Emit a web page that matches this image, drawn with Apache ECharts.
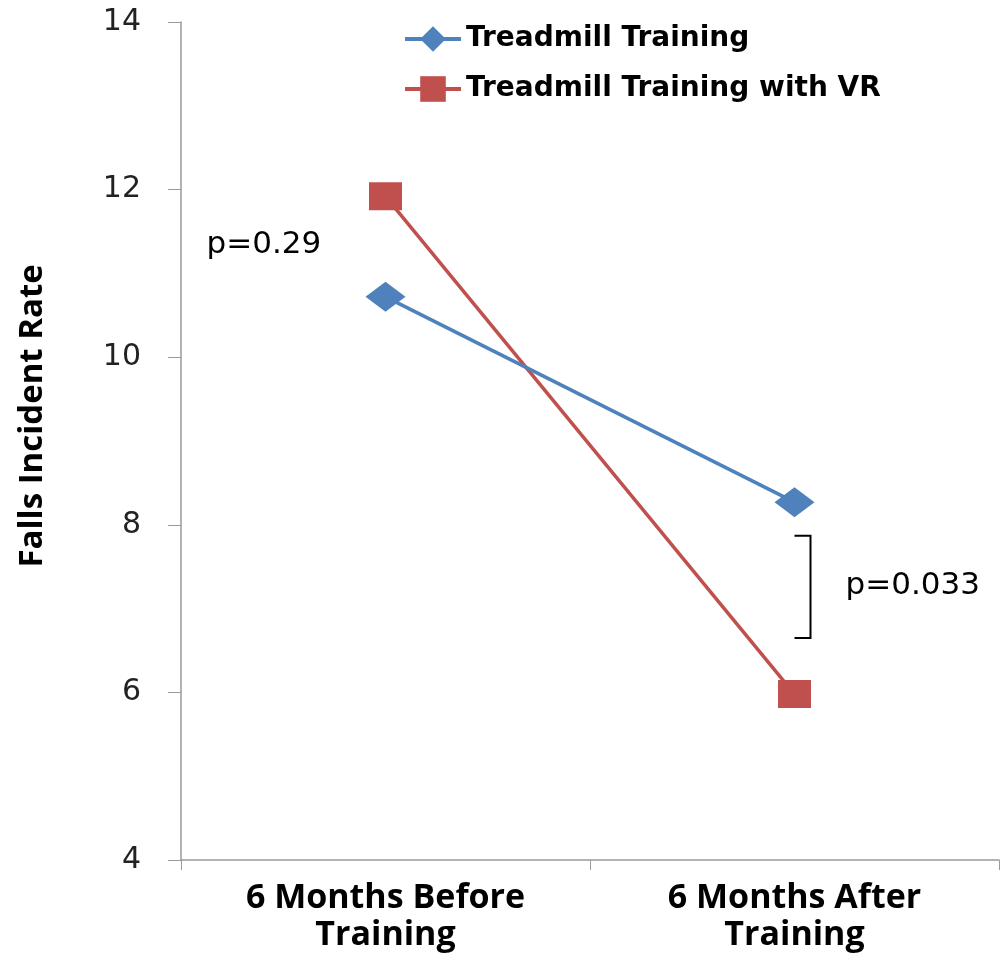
<!DOCTYPE html>
<html>
<head>
<meta charset="utf-8">
<script src="https://cdn.jsdelivr.net/npm/echarts@6/dist/echarts.min.js"></script>
<style>
  html, body { margin: 0; padding: 0; background: #fff; overflow: hidden; }
  #chart { width: 1000px; height: 955px; }
</style>
</head>
<body>
<div id="chart"></div>
<script>
const categories = ['6 Months Before\nTraining', '6 Months After\nTraining']
const treadmill = [10.72, 8.27]
const treadmillVR = [11.92, 5.98]
const yTicks = { min: 4, max: 14, interval: 2 }
const yTitle = 'Falls Incident Rate'
// p-value annotations: [category index, y value, text]
const pBefore = [0, 11.35, 'p=0.29']
const pAfter = [1, 7.25, 'p=0.033']
const bracketRange = [7.87, 6.65]

const chart = echarts.init(document.getElementById('chart'))

const option = {
  animation: false,
  grid: { left: 181, right: 1, top: 22, bottom: 95, outerBoundsMode: 'none', containLabel: false },
  legend: {
    left: 398,
    top: 20,
    orient: 'vertical',
    itemGap: 22,
    itemWidth: 56,
    itemHeight: 32,
    lineStyle: { width: 4 },
    textStyle: { fontFamily: 'DejaVu Sans', fontWeight: 'bold', fontSize: 28, color: '#000' },
    data: ['Treadmill Training', 'Treadmill Training with VR']
  },
  xAxis: {
    type: 'category',
    data: categories,
    boundaryGap: true,
    axisLine: { lineStyle: { color: '#9a9a9a', width: 1.5 } },
    axisTick: { show: true, length: 10, lineStyle: { color: '#9a9a9a' } },
    axisLabel: {
      margin: 20,
      fontFamily: 'Open Sans',
      fontWeight: 'bold',
      fontSize: 34,
      lineHeight: 37,
      color: '#000'
    }
  },
  yAxis: {
    type: 'value',
    min: yTicks.min,
    max: yTicks.max,
    interval: yTicks.interval,
    splitLine: { show: false },
    axisLine: { show: true, lineStyle: { color: '#9a9a9a', width: 1.5 } },
    axisTick: { show: true, length: 13, lineStyle: { color: '#9a9a9a' } },
    axisLabel: { margin: 40, fontFamily: 'DejaVu Sans', fontSize: 30, color: '#222' }
  },
  series: [
    {
      name: 'Treadmill Training',
      type: 'line',
      data: treadmill,
      symbol: 'diamond',
      symbolSize: [40, 30],
      color: '#4f81bd',
      lineStyle: { width: 3.5 },
      z: 3
    },
    {
      name: 'Treadmill Training with VR',
      type: 'line',
      data: treadmillVR,
      symbol: 'rect',
      symbolSize: [33, 28],
      color: '#c0504d',
      lineStyle: { width: 3.5 },
      z: 2
    }
  ]
}

chart.setOption(option)

// annotations placed through the axes
const pt = (ci, v) => chart.convertToPixel({ seriesIndex: 0 }, [ci, v])
const a = pt(pBefore[0], pBefore[1])
const b = pt(pAfter[0], pAfter[1])
const bTop = pt(1, bracketRange[0])
const bBot = pt(1, bracketRange[1])
const bx = bTop[0] + 16
const titleY = pt(0, 9.3)[1]

chart.setOption({
  graphic: [
    {
      type: 'text',
      x: 33,
      y: titleY,
      rotation: Math.PI / 2,
      style: {
        text: yTitle, fontFamily: 'Open Sans', fontWeight: 'bold', fontSize: 33, fill: '#000',
        align: 'center', verticalAlign: 'middle'
      }
    },
    {
      type: 'text',
      left: a[0] - 179,
      top: a[1] - 15,
      style: { text: pBefore[2], fontFamily: 'DejaVu Sans', fontSize: 31, fill: '#000' }
    },
    {
      type: 'text',
      left: b[0] + 51,
      top: b[1] - 17,
      style: { text: pAfter[2], fontFamily: 'DejaVu Sans', fontSize: 31, fill: '#000' }
    },
    {
      type: 'polyline',
      shape: { points: [[bx - 16, bTop[1]], [bx, bTop[1]], [bx, bBot[1]], [bx - 16, bBot[1]]] },
      style: { stroke: '#000', lineWidth: 2, fill: null }
    }
  ]
})
</script>
</body>
</html>
